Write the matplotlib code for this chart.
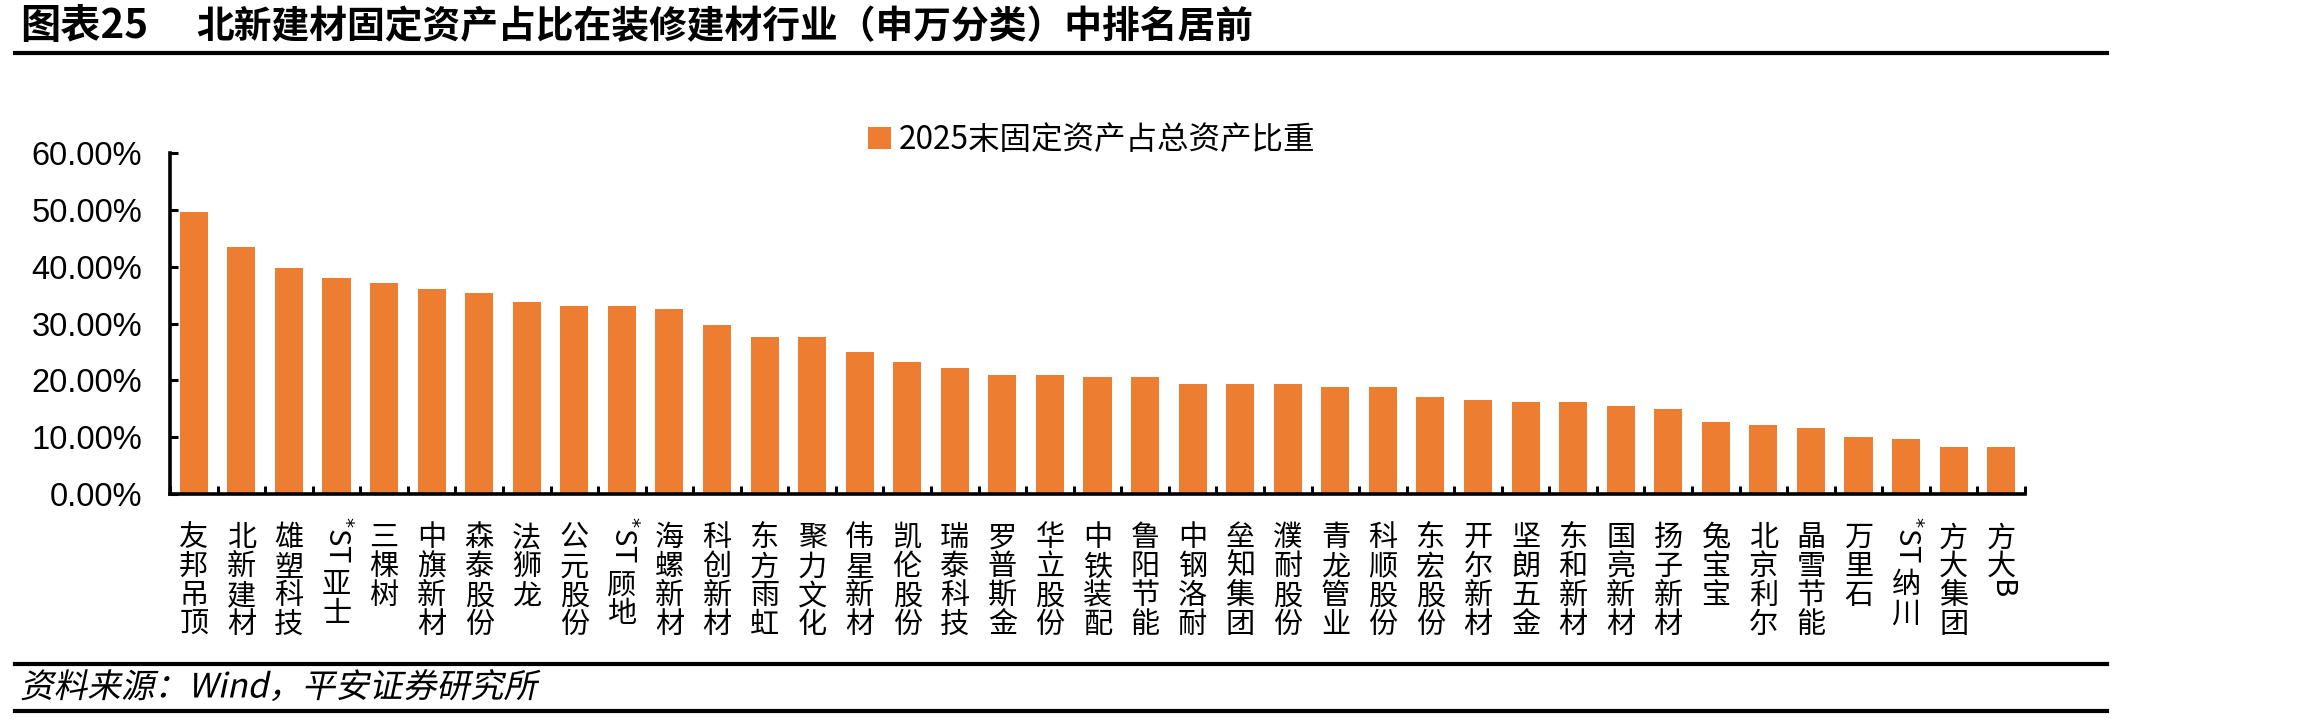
import re
import matplotlib
matplotlib.use("Agg")
import matplotlib.pyplot as plt
from matplotlib import transforms as mtransforms
from matplotlib.transforms import Affine2D
from matplotlib.lines import Line2D
from matplotlib.patheffects import AbstractPathEffect
from matplotlib.ticker import FuncFormatter, FixedLocator

plt.rcParams['font.family'] = ['Noto Sans CJK SC', 'DejaVu Sans']

# ---------------- data ----------------
categories = ["友邦吊顶", "北新建材", "雄塑科技", "*ST亚士", "三棵树", "中旗新材", "森泰股份",
              "法狮龙", "公元股份", "*ST顾地", "海螺新材", "科创新材", "东方雨虹", "聚力文化",
              "伟星新材", "凯伦股份", "瑞泰科技", "罗普斯金", "华立股份", "中铁装配", "鲁阳节能",
              "中钢洛耐", "垒知集团", "濮耐股份", "青龙管业", "科顺股份", "东宏股份", "开尔新材",
              "坚朗五金", "东和新材", "国亮新材", "扬子新材", "兔宝宝", "北京利尔", "晶雪节能",
              "万里石", "*ST纳川", "方大集团", "方大B"]
values = [49.7, 43.4, 39.8, 38.0, 37.1, 36.0, 35.4,
          33.7, 33.1, 33.1, 32.6, 29.8, 27.7, 27.7,
          24.9, 23.3, 22.2, 21.0, 21.0, 20.5, 20.5,
          19.4, 19.4, 19.4, 18.8, 18.8, 17.1, 16.5,
          16.1, 16.1, 15.5, 15.0, 12.7, 12.2, 11.7,
          10.0, 9.6, 8.3, 8.3]
series_name = "2025末固定资产占总资产比重"
yticks = [0, 10, 20, 30, 40, 50, 60]
title_num = "图表25"
title_text = "北新建材固定资产占比在装修建材行业（申万分类）中排名居前"
source_text = "资料来源：Wind，平安证券研究所"

BAR_COLOR = "#ED7D31"


class Oblique(AbstractPathEffect):
    """Shear the glyph outlines to imitate an italic face."""

    def __init__(self, shear=0.21):
        super().__init__()
        self.shear = shear

    def draw_path(self, renderer, gc, tpath, affine, rgbFace=None):
        ox, oy = affine.transform((0, 0))
        sk = Affine2D().translate(-ox, -oy).skew(self.shear, 0).translate(ox, oy)
        renderer.draw_path(gc, tpath, affine + sk, rgbFace)


W, H = 2302, 721
fig = plt.figure(figsize=(W / 100, H / 100), dpi=100)
ax_l, ax_r, ax_b, ax_t = 170, 2025, 494, 153
ax = fig.add_axes([ax_l / W, 1 - ax_b / H, (ax_r - ax_l) / W, (ax_b - ax_t) / H])

x = list(range(len(categories)))
bars = ax.bar(x, values, width=0.59, color=BAR_COLOR, label=series_name, zorder=2)

ax.set_xlim(-0.5, len(categories) - 0.5)
ax.set_ylim(0, 60)

for s in ["top", "right"]:
    ax.spines[s].set_visible(False)
for s in ["left", "bottom"]:
    ax.spines[s].set_linewidth(2.6)
    ax.spines[s].set_color("black")

ax.set_yticks(yticks)
ax.yaxis.set_major_formatter(FuncFormatter(lambda v, p: f"{v:.2f}%"))
ax.tick_params(axis="y", direction="in", length=6, width=2.2, pad=20, labelsize=23.5)
for lab in ax.get_yticklabels():
    lab.set_fontfamily("Liberation Sans")
ax.xaxis.set_major_locator(FixedLocator([i - 0.5 for i in range(len(categories) + 1)]))
ax.tick_params(axis="x", direction="in", length=6, width=2.2, labelbottom=False)

# ---------------- vertical category labels ----------------
fig.canvas.draw()
renderer = fig.canvas.get_renderer()
base = ax.get_xaxis_transform()
PT = 0.72                      # points per pixel at dpi 100
label_fs = 21
em_px = label_fs / PT
pitch_px = 29.0
top_px = 28.0                  # from axis line to ink top of first character
base_shift = 0.83 * em_px      # ink top -> baseline for CJK glyphs


def segments(name):
    out = []
    for m in re.finditer(r"\*[A-Za-z]+|[A-Za-z]+|.", name):
        s = m.group(0)
        if s.isascii():
            out.append(("latin", s))
        else:
            out.append(("cjk", s))
    return out


for i, name in enumerate(categories):
    cursor = top_px
    for kind, s in segments(name):
        if kind == "latin":
            txt = s
            start = cursor
            if s.startswith("*"):
                txt = r"$^{*}$" + s[1:]
                start = cursor - 6
            tr = mtransforms.offset_copy(base, fig=fig, x=0, y=-start * PT, units="points")
            t = ax.text(i, 0, txt, transform=tr, ha="center", va="top", rotation=-90,
                        fontsize=label_fs)
            bb = t.get_window_extent(renderer)
            cursor = start + bb.height + 6
        else:
            tr = mtransforms.offset_copy(base, fig=fig, x=0,
                                         y=-(cursor + base_shift) * PT, units="points")
            ax.text(i, 0, s, transform=tr, ha="center", va="baseline", fontsize=label_fs)
            cursor += pitch_px

# ---------------- legend ----------------
fig.legend(handles=[bars], labels=[series_name], loc="center left",
           bbox_to_anchor=(868 / W, 1 - 140 / H), frameon=False, fontsize=22.7,
           handlelength=0.72, handleheight=0.72, handletextpad=0.25,
           borderpad=0, borderaxespad=0)

# ---------------- title & footer ----------------
fig.text(20 / W, 1 - 27 / H, title_num, fontsize=29, fontweight="bold", va="center", ha="left")
fig.text(196 / W, 1 - 27 / H, title_text, fontsize=27.2, fontweight="bold", va="center", ha="left")
for yy in (53, 664, 711):
    fig.add_artist(Line2D([15 / W, 2107 / W], [1 - yy / H] * 2, color="black", lw=3.0,
                          transform=fig.transFigure))
fig.text(20 / W, 1 - 688 / H, source_text, fontsize=24.2, va="center", ha="left",
         path_effects=[Oblique(0.21)])

fig.savefig("out.png", dpi=100)
